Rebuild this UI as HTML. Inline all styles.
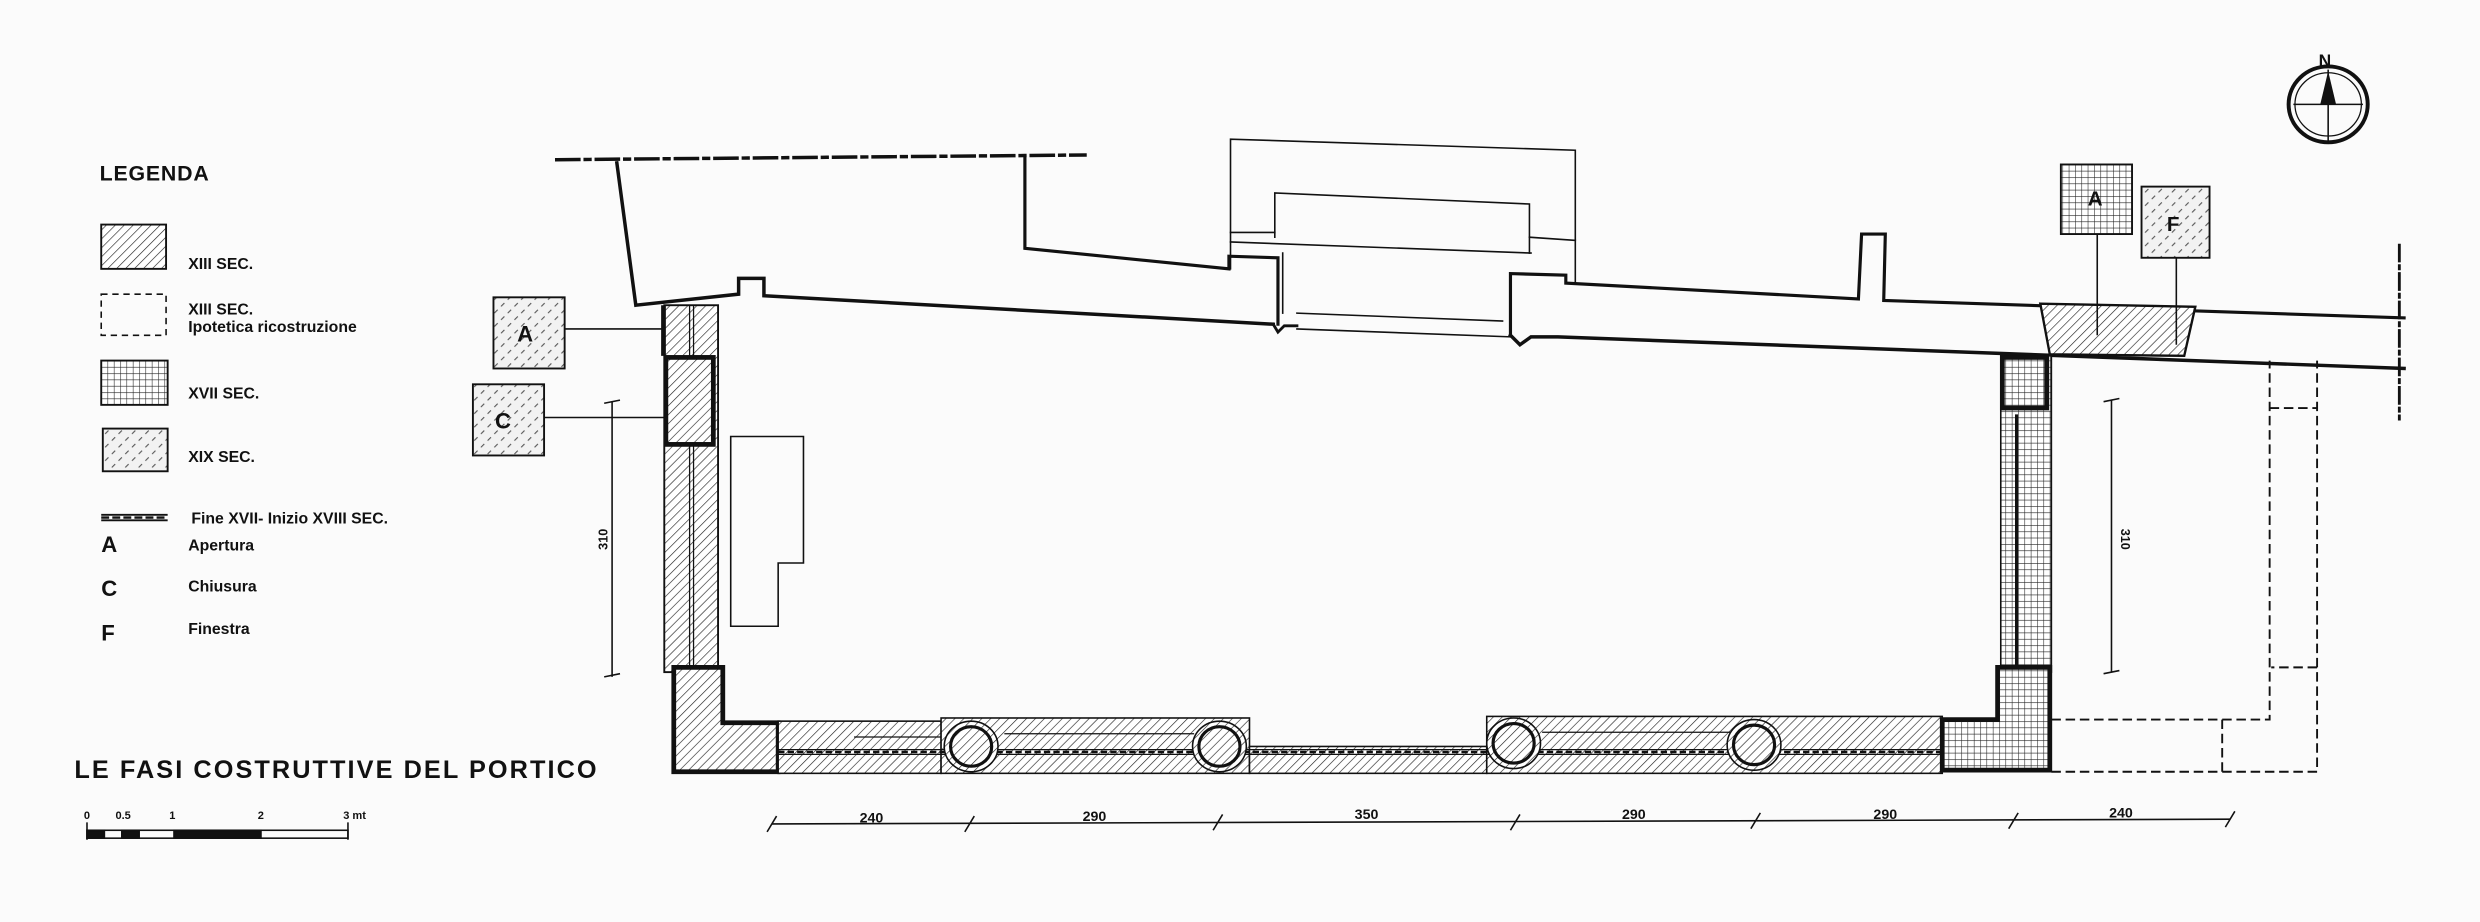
<!DOCTYPE html>
<html><head><meta charset="utf-8"><style>
html,body{margin:0;padding:0;background:#fbfbfb}
svg{display:block}
text{font-family:"Liberation Sans",sans-serif;font-weight:bold;fill:#111}
</style></head><body>
<svg width="2480" height="922" viewBox="0 0 1568 583" preserveAspectRatio="none" xmlns="http://www.w3.org/2000/svg">
<defs>
<pattern id="hat" width="4" height="4" patternUnits="userSpaceOnUse" patternTransform="rotate(45)">
<rect width="4" height="4" fill="#fff"/><line x1="0" y1="0" x2="0" y2="4" stroke="#222" stroke-width="0.8"/></pattern>
<pattern id="grid" width="4" height="4" patternUnits="userSpaceOnUse">
<rect width="4" height="4" fill="#fff"/><path d="M0 0H4M0 0V4" stroke="#222" stroke-width="0.7"/></pattern>
<pattern id="stip" width="6" height="6" patternUnits="userSpaceOnUse" patternTransform="rotate(45)">
<rect width="6" height="6" fill="#f2f2f2"/><line x1="1" y1="0" x2="1" y2="3" stroke="#555" stroke-width="0.7"/></pattern>
</defs>
<rect width="1568" height="583" fill="#fbfbfb"/>

<!-- Legend -->
<text x="63" y="114" font-size="13.5" letter-spacing="0.5">LEGENDA</text>
<rect x="64" y="142" width="41" height="28" fill="url(#hat)" stroke="#111" stroke-width="1.2"/>
<text x="119" y="170" font-size="10">XIII   SEC.</text>
<rect x="64" y="186" width="41" height="26" fill="none" stroke="#111" stroke-width="1" stroke-dasharray="4 3"/>
<text x="119" y="199" font-size="10">XIII  SEC.</text>
<text x="119" y="210" font-size="10">Ipotetica ricostruzione</text>
<rect x="64" y="228" width="42" height="28" fill="url(#grid)" stroke="#111" stroke-width="1.2"/>
<text x="119" y="252" font-size="10">XVII  SEC.</text>
<rect x="65" y="271" width="41" height="27" fill="url(#stip)" stroke="#111" stroke-width="1.2"/>
<text x="119" y="292" font-size="10">XIX   SEC.</text>
<line x1="64" y1="325.5" x2="106" y2="325.5" stroke="#111" stroke-width="1.2"/>
<line x1="64" y1="329" x2="106" y2="329" stroke="#111" stroke-width="1.2"/>
<line x1="64" y1="327.3" x2="106" y2="327.3" stroke="#111" stroke-width="1.5" stroke-dasharray="5 2"/>
<text x="121" y="331" font-size="10">Fine XVII- Inizio XVIII SEC.</text>
<text x="64" y="349" font-size="14">A</text><text x="119" y="348" font-size="10">Apertura</text>
<text x="64" y="377" font-size="14">C</text><text x="119" y="374" font-size="10">Chiusura</text>
<text x="64" y="405" font-size="14">F</text><text x="119" y="401" font-size="10">Finestra</text>

<text x="47" y="492" font-size="16" letter-spacing="1.3">LE FASI COSTRUTTIVE DEL PORTICO</text>
<!-- scale bar -->
<g stroke="#111" fill="none">
<rect x="55" y="525" width="165" height="5" stroke-width="1"/>
<rect x="55" y="525" width="11" height="5" fill="#111"/>
<rect x="77" y="525" width="11" height="5" fill="#111"/>
<rect x="110" y="525" width="55" height="5" fill="#111"/>
<line x1="55" y1="520" x2="55" y2="531"/><line x1="220" y1="520" x2="220" y2="531"/>
</g>
<g font-size="7"><text x="53" y="518">0</text><text x="73" y="518">0.5</text><text x="107" y="518">1</text><text x="163" y="518">2</text><text x="217" y="518">3 mt</text></g>

<!-- compass -->
<g stroke="#111" fill="none">
<ellipse cx="1472" cy="66" rx="25" ry="24" stroke-width="2.5"/>
<ellipse cx="1472" cy="66" rx="21" ry="20" stroke-width="0.8"/>
<line x1="1450" y1="66" x2="1494" y2="66"/><line x1="1472" y1="44" x2="1472" y2="90"/>
</g>
<polygon points="1472,45 1467,66 1477,66" fill="#111"/>
<text x="1466" y="42" font-size="11">N</text>

<!-- top lines -->
<g stroke="#111" fill="none" stroke-linecap="square">
<line x1="352" y1="101" x2="686" y2="98" stroke-width="2.2" stroke-dasharray="14 4 3 4"/>
<polyline points="390,103 402,193 467,186 467,176 483,176 483,187 805,205" stroke-width="2.2"/>
<polyline points="805,205 808,210 812,206 820,206" stroke-width="1.8"/>
<line x1="820" y1="208" x2="955" y2="213" stroke-width="1"/>
<line x1="820" y1="198" x2="950" y2="203" stroke-width="1"/>
<polyline points="955,212 961,218 968,213 985,213 1520,233" stroke-width="2.2"/>
<polyline points="648,100 648,157 777,170 777,162 808,163 808,205" stroke-width="2"/>
<polyline points="955,212 955,173 990,174 990,179 1175,189 1177,148 1192,148 1191,190 1520,201" stroke-width="2"/>
<polyline points="778,170 778,88 996,95 996,179" stroke-width="1"/>
<polyline points="806,150 806,122 967,129 967,160" stroke-width="1"/>
<line x1="778" y1="147" x2="806" y2="147" stroke-width="1"/>
<line x1="778" y1="153" x2="968" y2="160" stroke-width="1"/>
<line x1="967" y1="150" x2="996" y2="152" stroke-width="1"/>
<line x1="811" y1="160" x2="811" y2="198" stroke-width="1"/>
<line x1="1517" y1="155" x2="1517" y2="265" stroke-width="1.8" stroke-dasharray="10 3 2 3"/>
</g>

<!-- right top boxes -->
<rect x="1303" y="104" width="45" height="44" fill="url(#grid)" stroke="#111" stroke-width="1.2"/>
<text x="1320" y="130" font-size="13">A</text>
<rect x="1354" y="118" width="43" height="45" fill="url(#stip)" stroke="#111" stroke-width="1.2"/>
<text x="1370" y="146" font-size="13">F</text>
<polygon points="1290,192 1388,194 1381,225 1296,224" fill="url(#hat)" stroke="#111" stroke-width="1.5"/>
<line x1="1326" y1="148" x2="1326" y2="212" stroke="#111"/>
<line x1="1376" y1="163" x2="1376" y2="218" stroke="#111"/>

<!-- left wall -->
<rect x="312" y="188" width="45" height="45" fill="url(#stip)" stroke="#111" stroke-width="1.2"/>
<text x="327" y="216" font-size="14">A</text>
<rect x="299" y="243" width="45" height="45" fill="url(#stip)" stroke="#111" stroke-width="1.2"/>
<text x="313" y="271" font-size="14">C</text>
<line x1="357" y1="208" x2="419" y2="208" stroke="#111"/>
<line x1="344" y1="264" x2="421" y2="264" stroke="#111"/>
<rect x="420" y="193" width="34" height="232" fill="url(#hat)" stroke="#111" stroke-width="1.2"/>
<line x1="419.5" y1="193" x2="419.5" y2="225" stroke="#111" stroke-width="3"/>
<line x1="436" y1="193" x2="436" y2="422" stroke="#111" stroke-width="0.8"/>
<line x1="438.5" y1="193" x2="438.5" y2="422" stroke="#111" stroke-width="0.8"/>
<rect x="421" y="226" width="30" height="55" fill="url(#hat)" stroke="#111" stroke-width="3"/>
<path d="M426,422 H457 V457 H492 V488 H426 Z" fill="url(#hat)" stroke="#111" stroke-width="3"/>
<!-- dim left -->
<g stroke="#111"><line x1="387" y1="254" x2="387" y2="428"/><line x1="382" y1="255" x2="392" y2="253"/><line x1="382" y1="428" x2="392" y2="426"/></g>
<text x="0" y="0" font-size="8" transform="translate(384,341) rotate(-90)" text-anchor="middle">310</text>
<!-- interior shape -->
<polygon points="462,276 508,276 508,356 492,356 492,396 462,396" fill="none" stroke="#111" stroke-width="1"/>

<!-- bottom wall -->
<rect x="492" y="456" width="103" height="33" fill="url(#hat)" stroke="#111" stroke-width="1"/>
<rect x="595" y="454" width="195" height="35" fill="url(#hat)" stroke="#111" stroke-width="1"/>
<rect x="790" y="472" width="150" height="17" fill="url(#hat)" stroke="#111" stroke-width="1"/>
<rect x="940" y="453" width="288" height="36" fill="url(#hat)" stroke="#111" stroke-width="1"/>
<g stroke="#111">
<line x1="492" y1="474" x2="1228" y2="474" stroke-width="0.8"/>
<line x1="492" y1="477" x2="1228" y2="477" stroke-width="0.8"/>
<line x1="492" y1="475.5" x2="1228" y2="475.5" stroke-width="1.6" stroke-dasharray="4 2"/>
<line x1="540" y1="466" x2="595" y2="466" stroke-width="0.8"/>
<line x1="635" y1="464" x2="755" y2="464" stroke-width="0.8"/>
<line x1="975" y1="463" x2="1095" y2="463" stroke-width="0.8"/>
</g>
<g stroke="#111" fill="url(#hat)">
<ellipse cx="614" cy="472" rx="17" ry="16" stroke-width="1"/><ellipse cx="614" cy="472" rx="13" ry="12.5" stroke-width="2"/>
<ellipse cx="771" cy="472" rx="17" ry="16" stroke-width="1"/><ellipse cx="771" cy="472" rx="13" ry="12.5" stroke-width="2"/>
<ellipse cx="957" cy="470" rx="17" ry="16" stroke-width="1"/><ellipse cx="957" cy="470" rx="13" ry="12.5" stroke-width="2"/>
<ellipse cx="1109" cy="471" rx="17" ry="16" stroke-width="1"/><ellipse cx="1109" cy="471" rx="13" ry="12.5" stroke-width="2"/>
</g>

<!-- right wall -->
<rect x="1265" y="225" width="32" height="200" fill="url(#grid)" stroke="#111" stroke-width="1"/>
<line x1="1275" y1="262" x2="1275" y2="422" stroke="#111" stroke-width="2"/>
<rect x="1266" y="226" width="28" height="32" fill="url(#grid)" stroke="#111" stroke-width="3"/>
<path d="M1263,422 H1296 V487 H1228 V455 H1263 Z" fill="url(#grid)" stroke="#111" stroke-width="3"/>
<!-- dim right -->
<g stroke="#111"><line x1="1335" y1="253" x2="1335" y2="425"/><line x1="1330" y1="254" x2="1340" y2="252"/><line x1="1330" y1="426" x2="1340" y2="424"/></g>
<text x="0" y="0" font-size="8" transform="translate(1341,341) rotate(90)" text-anchor="middle">310</text>
<!-- dashed annex -->
<g stroke="#111" fill="none" stroke-dasharray="6 3" stroke-width="1.2">
<polyline points="1297,455 1435,455 1435,228"/>
<polyline points="1297,488 1465,488 1465,228"/>
<line x1="1435" y1="258" x2="1465" y2="258"/>
<polyline points="1465,422 1436,422"/>
<line x1="1405" y1="455" x2="1405" y2="488"/>
</g>

<!-- bottom dimension -->
<g stroke="#111">
<line x1="488" y1="521" x2="1410" y2="518"/>
<line x1="485" y1="526" x2="491" y2="516"/><line x1="610" y1="526" x2="616" y2="516"/>
<line x1="767" y1="525" x2="773" y2="515"/><line x1="955" y1="525" x2="961" y2="515"/>
<line x1="1107" y1="524" x2="1113" y2="514"/><line x1="1270" y1="524" x2="1276" y2="514"/>
<line x1="1407" y1="523" x2="1413" y2="513"/>
</g>
<g font-size="9" text-anchor="middle">
<text x="551" y="520">240</text><text x="692" y="519">290</text><text x="864" y="518">350</text>
<text x="1033" y="518">290</text><text x="1192" y="518">290</text><text x="1341" y="517">240</text>
</g>
</svg>
</body></html>
